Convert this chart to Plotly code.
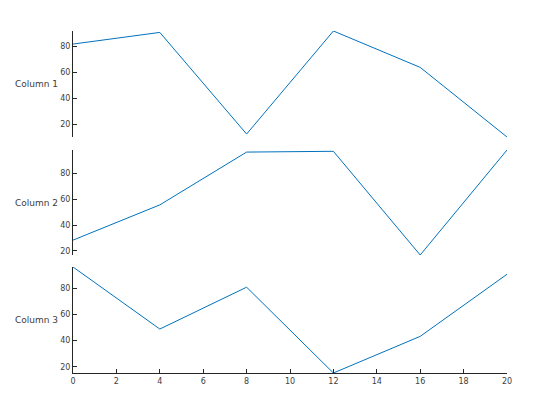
import plotly.graph_objects as go
from plotly.subplots import make_subplots

x_vals = [0, 4, 8, 12, 16, 20]
col1 = [82, 91, 12.5, 92.1, 64, 10.2]
col2 = [28.4, 55.6, 96.4, 97, 16.9, 98]
col3 = [96.5, 48.9, 81, 15.2, 43.3, 90.9]
labels = ["Column 1", "Column 2", "Column 3"]
series = [col1, col2, col3]

W, H = 560, 420
ml, mr, mt, mb = 65, 61, 23, 55
fig = make_subplots(rows=3, cols=1, shared_xaxes=True, vertical_spacing=0.037)

domains = [[0.690, 1.0], [0.345, 0.652], [0.0, 0.310]]
line_col = "#262626"
tick_col = "#404040"
for i, (lab, ys) in enumerate(zip(labels, series)):
    r = i + 1
    fig.add_trace(go.Scatter(x=x_vals, y=ys, mode="lines",
                             line=dict(color="#0072BD", width=1),
                             showlegend=False), row=r, col=1)
    ax = "yaxis" if r == 1 else f"yaxis{r}"
    xa = "xaxis" if r == 1 else f"xaxis{r}"
    fig.layout[ax].update(domain=domains[i], range=[min(ys), max(ys)], dtick=20,
                          ticks="inside", ticklen=4, tickcolor=line_col,
                          showline=True, linecolor=line_col, linewidth=1,
                          showgrid=False, zeroline=False,
                          tickfont=dict(family="DejaVu Sans", size=8, color=tick_col))
    bottom = (r == 3)
    fig.layout[xa].update(range=[0, 20], dtick=2, showgrid=False, zeroline=False,
                          showline=bottom, linecolor=line_col, linewidth=1,
                          ticks="inside" if bottom else "", ticklen=4, tickcolor=line_col,
                          showticklabels=bottom,
                          tickfont=dict(family="DejaVu Sans", size=8, color=tick_col))
    d = domains[i]
    fig.add_annotation(text=lab, xref="paper", yref="paper",
                       x=-13 / (W - ml - mr), y=(d[0] + d[1]) / 2,
                       xanchor="right", yanchor="middle", showarrow=False,
                       font=dict(family="DejaVu Sans", size=9, color="#404040"))

fig.update_layout(width=W, height=H, margin=dict(l=ml, r=mr, t=mt, b=mb),
                  plot_bgcolor="white", paper_bgcolor="white")
fig.write_html("out.html")
